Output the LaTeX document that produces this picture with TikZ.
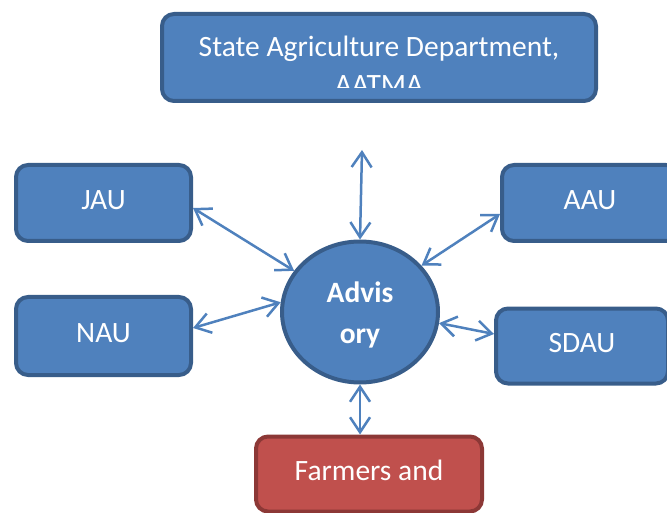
\documentclass[tikz,border=0pt]{standalone}
\usepackage{fontspec}
\setmainfont{Carlito}
\usetikzlibrary{shapes.geometric,arrows.meta}
\definecolor{boxfill}{HTML}{4F81BD}
\definecolor{boxline}{HTML}{385D8A}
\definecolor{redfill}{HTML}{C0504D}
\definecolor{redline}{HTML}{8C3836}
\tikzset{
  orgbox/.style={draw=boxline, fill=boxfill, line width=4pt, rounded corners=12pt,
    text=white, inner sep=0pt, text height=20pt, text depth=7pt,
    font=\fontsize{29.5}{35}\selectfont},
  farmbox/.style={orgbox, draw=redline, fill=redfill},
  advnode/.style={ellipse, draw=boxline, fill=boxfill, line width=4pt, inner sep=0pt},
  advtext/.style={text=white, align=center, inner sep=0pt,
    font=\fontsize{29.5}{41}\selectfont\bfseries},
  link/.style={draw=boxfill, line width=2.5pt,
    {Straight Barb[length=15pt,width=20pt]}-{Straight Barb[length=15pt,width=20pt]}}
}
\begin{document}
\begin{tikzpicture}[x=1pt, y=-1pt]
  \useasboundingbox (0,0) rectangle (667,513);
  \clip (0,0) rectangle (667,513);
  % top box "State Agriculture Department, AATMA"
  \node[orgbox, minimum width=434pt, minimum height=87pt] (sad) at (379,57.5) {};
  \node[anchor=base, text=white, font=\fontsize{29.5}{35}\selectfont] (sadone) at (379,57) {State Agriculture Department,};
  \begin{scope}
    \clip (160,12) rectangle (598,88);
    \node[anchor=base, text=white, font=\fontsize{29.5}{35}\selectfont] (sadtwo) at (379,95) {AATMA};
  \end{scope}
  % left boxes
  \node[orgbox, minimum width=175pt, minimum height=76pt] (jau) at (103.5,203) {JAU};
  \node[orgbox, minimum width=175pt, minimum height=78pt] (nau) at (103.5,336) {NAU};
  % right boxes
  \node[orgbox, minimum width=176pt, minimum height=76pt] (aau) at (590,203) {AAU};
  \node[orgbox, minimum width=172pt, minimum height=75pt] (sdau) at (582,346) {SDAU};
  % bottom box "Farmers and"
  \node[farmbox, minimum width=226pt, minimum height=75pt] (farm) at (369,474) {Farmers and};
  % centre ellipse "Advisory"
  \node[advnode, minimum width=156pt, minimum height=141pt] (adv) at (360,312) {};
  \node[advtext] (advtxt) at (360,315) {Advis\\ory};
  % arrows
  \coordinate (topend) at (362,150);
  \draw[link] (topend) -- (adv.north);
  \draw[link] ([yshift=-5pt]jau.east) -- (adv.148);
  \draw[link] ([yshift=8pt]nau.east) -- (adv.173);
  \draw[link] ([yshift=-11pt]aau.west) -- (adv.37);
  \draw[link] (adv.-8) -- ([yshift=12pt]sdau.west);
  \draw[link] (adv.south) -- (adv.south |- farm.north);
\end{tikzpicture}
\end{document}
